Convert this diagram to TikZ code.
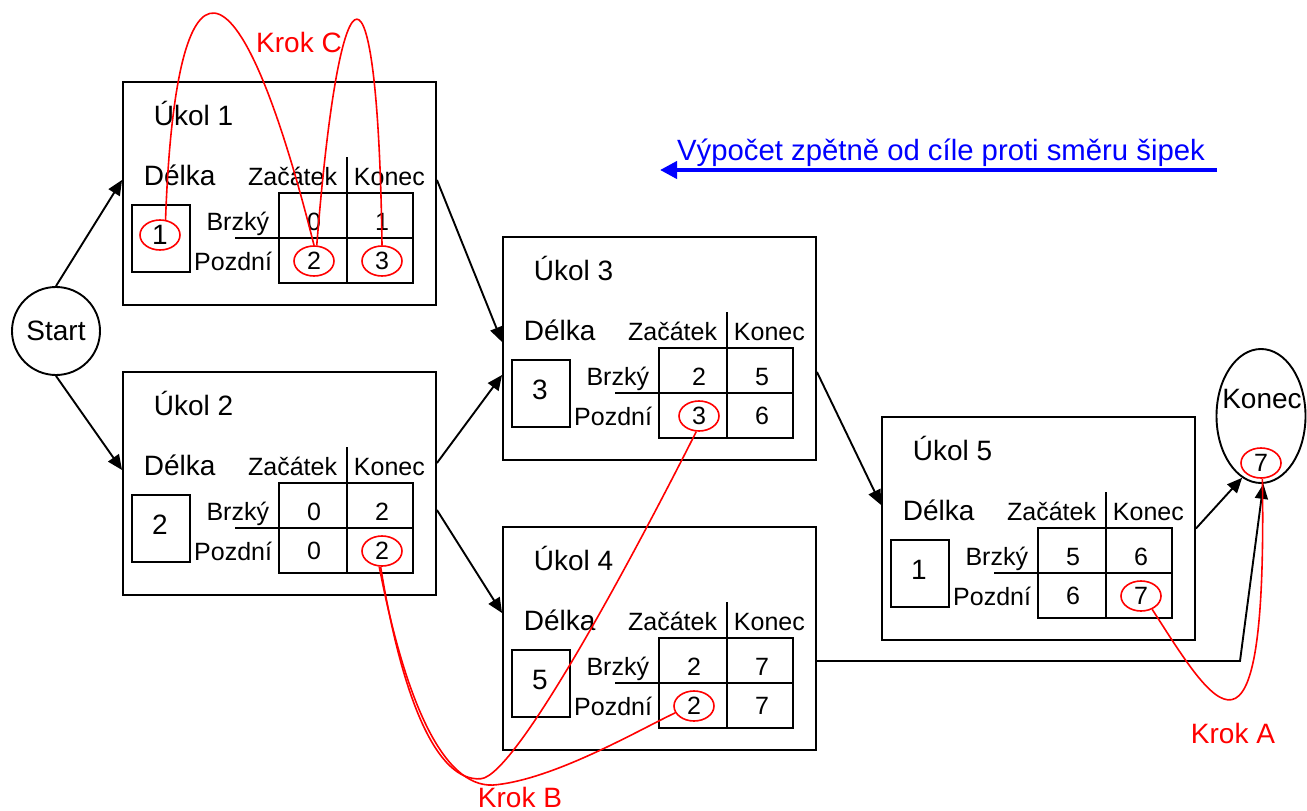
\documentclass[tikz,border=0pt]{standalone}
\usepackage{fontspec}
\setmainfont{Liberation Sans}
\usetikzlibrary{arrows.meta,shapes.geometric}
\newcommand\myBig{\fontsize{28}{32}\selectfont}
\newcommand\mySmall{\fontsize{25}{28}\selectfont}
\newcommand\taskbox[3]{%
\begin{scope}[shift={#2}]
\node[taskframe] (#1) at (156.5,111.5) {};
\node[titletext, anchor=base west] (#1-t) at (30,43) {#3};
\node[titletext, anchor=base west] (#1-d) at (20,103) {Délka};
\node[lenframe] (#1-lb) at (38,156.5) {};
\node[tblframe] (#1-tb) at (223,156) {};
\draw (224,75) -- (224,201);
\draw (112,156) -- (290,156);
\node[labtext, anchor=base east] (#1-zh) at (215,103) {Začátek};
\node[labtext, anchor=base west] (#1-kh) at (230,103) {Konec};
\node[labtext, anchor=base east] (#1-rb) at (147,148) {Brzký};
\node[labtext, anchor=base east] (#1-rp) at (150,188) {Pozdní};
\coordinate (#1-s) at (37,153);
\coordinate (#1-11) at (191,140);
\coordinate (#1-12) at (259,140);
\coordinate (#1-21) at (191,179);
\coordinate (#1-22) at (259,179);
\end{scope}}
\tikzset{
  taskframe/.style={draw, minimum width=313pt, minimum height=223pt, inner sep=0pt},
  lenframe/.style={draw, minimum width=58pt, minimum height=67pt, inner sep=0pt},
  tblframe/.style={draw, minimum width=134pt, minimum height=90pt, inner sep=0pt},
  titletext/.style={font=\myBig, inner sep=0pt},
  labtext/.style={font=\mySmall, inner sep=0pt},
  val/.style={font=\mySmall, inner sep=0pt},
  valbig/.style={font=\myBig, inner sep=0pt},
  valc/.style={font=\mySmall, inner sep=0pt, shape=ellipse, draw=red, line width=1.6pt, minimum width=40pt, minimum height=30pt},
  valcbig/.style={valc, font=\myBig},
  arr/.style={-{Triangle[length=15pt,width=13pt]}},
  redline/.style={draw=red, line width=1.6pt},
  redtext/.style={font=\myBig, text=red, inner sep=0pt},
}
\begin{document}
\begin{tikzpicture}[x=1pt, y=-1pt, line width=1.9pt]
\useasboundingbox (0,0) rectangle (1307,811);

\taskbox{b1}{(123,82)}{Úkol 1}
\taskbox{b2}{(123,372)}{Úkol 2}
\taskbox{b3}{(503,237)}{Úkol 3}
\taskbox{b4}{(503,527)}{Úkol 4}
\taskbox{b5}{(882,417)}{Úkol 5}

% values
\node[valcbig] (b1-vs) at (b1-s) {1};
\node[val] (b1-v11) at (b1-11) {0};
\node[val] (b1-v12) at (b1-12) {1};
\node[valc] (b1-v21) at (b1-21) {2};
\node[valc] (b1-v22) at (b1-22) {3};

\node[valbig] (b2-vs) at (b2-s) {2};
\node[val] (b2-v11) at (b2-11) {0};
\node[val] (b2-v12) at (b2-12) {2};
\node[val] (b2-v21) at (b2-21) {0};
\node[valc] (b2-v22) at (b2-22) {2};

\node[valbig] (b3-vs) at (b3-s) {3};
\node[val] (b3-v11) at ([xshift=5pt]b3-11) {2};
\node[val] (b3-v12) at (b3-12) {5};
\node[valc] (b3-v21) at ([xshift=5pt]b3-21) {3};
\node[val] (b3-v22) at (b3-22) {6};

\node[valbig] (b4-vs) at (b4-s) {5};
\node[val] (b4-v11) at (b4-11) {2};
\node[val] (b4-v12) at (b4-12) {7};
\node[valc] (b4-v21) at (b4-21) {2};
\node[val] (b4-v22) at (b4-22) {7};

\node[valbig] (b5-vs) at (b5-s) {1};
\node[val] (b5-v11) at (b5-11) {5};
\node[val] (b5-v12) at (b5-12) {6};
\node[val] (b5-v21) at (b5-21) {6};
\node[valc] (b5-v22) at (b5-22) {7};

% start and end
\node[draw, circle, minimum size=88pt, inner sep=0pt, font=\myBig] (start) at (56,331) {Start};
\node[draw, ellipse, minimum width=89pt, minimum height=134pt, inner sep=0pt] (konec) at (1261,416) {};
\node[titletext] (konec-t) at (1262,399) {Konec};
\node[valc] (konec-v) at (1261,463) {7};

% connectors
\draw[arr] (start.north) -- (b1.west |- 0,180);
\draw[arr] (start.south) -- (b2.west |- 0,470);
\draw[arr] (b1.east |- 0,180) -- (b3.west |- 0,342);
\draw[arr] (b2.east |- 0,463) -- (b3.west |- 0,375);
\draw[arr] (b2.east |- 0,510) -- (b4.west |- 0,613);
\draw[arr] (b3.east |- 0,372) -- (b5.west |- 0,505);
\draw[arr] (b5.east) -- (konec.253.6);
\coordinate (k4) at (1240,661);
\draw[arr] (b4.east |- 0,661) -- (k4) -- (konec.272);

% blue note
\node[font=\fontsize{29.3}{32}\selectfont, text=blue, inner sep=0pt] (calc) at (941,153) {Výpočet zpětně od cíle proti směru šipek};
\coordinate (blueR) at (1217,170);
\coordinate (blueL) at (660,170);
\draw[blue, line width=4pt, -{Triangle[length=17pt,width=17pt]}] (blueR) -- (blueL);

% red steps
\node[redtext] (kA) at (1233,733) {Krok A};
\node[redtext] (kB) at (520,797) {Krok B};
\node[redtext] (kC) at (299,42) {Krok C};

\draw[redline] (b5-v22.-50) .. controls +(60,93) and +(5,322) .. (konec-v.-85);
\draw[redline] (b2-v22.-95) .. controls +(22,135) and +(-43,3) .. ++(100,212)
   .. controls +(37,-2) and +(-50,99) .. (b3-v21.-100);
\draw[redline] (b2-v22.-100) .. controls +(28,145) and +(-50,7) .. ++(118,218)
   .. controls +(60,-7) and +(-36,17) .. (b4-v21.200);
\draw[redline] (b1-vs.70) .. controls +(10,-279) and +(-77,-306) .. (b1-v21.north);
\draw[redline] (b1-v21.80) .. controls +(24,-302) and +(-4,-301) .. (b1-v22.north);
\end{tikzpicture}
\end{document}
